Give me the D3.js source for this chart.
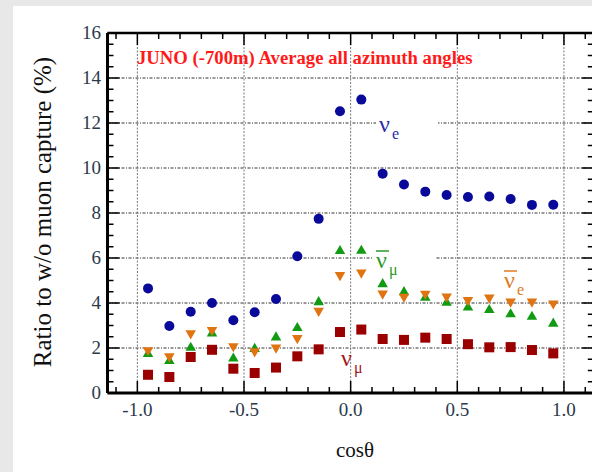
<!DOCTYPE html>
<html>
<head>
<meta charset="utf-8">
<script src="https://cdn.jsdelivr.net/npm/d3@7"></script>
<style>
  body { margin: 0; background: #e8e8e8; }
  svg { display: block; }
  text { font-family: "Liberation Serif", "DejaVu Serif", serif; }
</style>
</head>
<body>
<script>
// cos(theta) bin centres
var cosTheta = [-0.95, -0.85, -0.75, -0.65, -0.55, -0.45, -0.35, -0.25, -0.15, -0.05,
                 0.05, 0.15, 0.25, 0.35, 0.45, 0.55, 0.65, 0.75, 0.85, 0.95];

// ratio to w/o muon capture (%)
var nuE     = [4.65, 2.98, 3.61, 4.00, 3.23, 3.59, 4.18, 6.08, 7.74, 12.52,
               13.04, 9.75, 9.27, 8.95, 8.80, 8.71, 8.73, 8.62, 8.36, 8.37];
var nuMuBar = [1.73, 1.42, 2.01, 2.65, 1.53, 1.96, 2.47, 2.89, 4.04, 6.31,
               6.32, 4.84, 4.48, 4.24, 4.01, 3.80, 3.69, 3.50, 3.39, 3.08];
var nuEBar  = [1.90, 1.63, 2.65, 2.80, 2.08, 1.85, 2.02, 2.44, 3.65, 5.24,
               5.35, 4.42, 4.28, 4.41, 4.29, 4.13, 4.24, 4.06, 4.06, 3.98];
var nuMu    = [0.81, 0.71, 1.60, 1.92, 1.08, 0.89, 1.13, 1.63, 1.94, 2.71,
               2.82, 2.40, 2.36, 2.46, 2.40, 2.17, 2.03, 2.04, 1.91, 1.76];

var xTicks = [-1.0, -0.5, 0.0, 0.5, 1.0];
var xTickLabels = ["-1.0", "-0.5", "0.0", "0.5", "1.0"];
var yTicks = [0, 2, 4, 6, 8, 10, 12, 14, 16];

var w = 592, h = 472;

var svg = d3.select("body").append("svg")
  .attr("width", w)
  .attr("height", h);

// grey surround + white panel
svg.append("rect").attr("width", w).attr("height", h).attr("fill", "#e8e8e8");
svg.append("rect").attr("x", 13).attr("y", 6).attr("width", w - 13).attr("height", h - 6).attr("fill", "#fff");

var x = d3.scaleLinear().domain([-1.14, 1.14]).range([107.5, 593.8]);
var y = d3.scaleLinear().domain([0, 16]).range([393, 33]);

var x0 = x.range()[0], x1 = x.range()[1];
var y0 = y.range()[0], y1 = y.range()[1];

// grid
svg.selectAll(".hgrid")
  .data(yTicks.filter(function(d) { return d > 0 && d < 16; }))
  .enter().append("line")
  .attr("x1", x0).attr("x2", x1)
  .attr("y1", function(d) { return y(d); })
  .attr("y2", function(d) { return y(d); })
  .attr("stroke", "#333")
  .attr("stroke-width", 1)
  .attr("stroke-dasharray", "3,1.5,1,1.5");

svg.selectAll(".vgrid")
  .data(xTicks)
  .enter().append("line")
  .attr("x1", function(d) { return x(d); })
  .attr("x2", function(d) { return x(d); })
  .attr("y1", y1).attr("y2", y0)
  .attr("stroke", "#777")
  .attr("stroke-width", 1)
  .attr("stroke-dasharray", "2,1.5");

// white boxes behind labels (they cut the grid lines)
var boxes = [[376, 112, 62, 32], [372, 245, 64, 34]];
boxes.forEach(function(b) {
  svg.append("rect").attr("x", b[0]).attr("y", b[1]).attr("width", b[2]).attr("height", b[3]).attr("fill", "#fff");
});

// ticks
var minorX = d3.range(-11, 12).map(function(i) { return i / 10; });
var minorY = d3.range(0, 33).map(function(i) { return i / 2; });

function isMajorX(v) { return Math.abs(v * 2 - Math.round(v * 2)) < 1e-6; }
function isMajorY(v) { return Math.abs(v / 2 - Math.round(v / 2)) < 1e-6; }

var ticks = svg.append("g").attr("stroke", "#000").attr("stroke-width", 1.5);
minorX.forEach(function(v) {
  var len = isMajorX(v) ? 12 : 6;
  ticks.append("line").attr("x1", x(v)).attr("x2", x(v)).attr("y1", y0).attr("y2", y0 - len);
  ticks.append("line").attr("x1", x(v)).attr("x2", x(v)).attr("y1", y1).attr("y2", y1 + len);
});
minorY.forEach(function(v) {
  var len = isMajorY(v) ? 12 : 6;
  ticks.append("line").attr("x1", x0).attr("x2", x0 + len).attr("y1", y(v)).attr("y2", y(v));
  ticks.append("line").attr("x1", x1).attr("x2", x1 - len).attr("y1", y(v)).attr("y2", y(v));
});

// frame
svg.append("line").attr("x1", x0).attr("x2", x1).attr("y1", y1).attr("y2", y1).attr("stroke", "#000").attr("stroke-width", 2.5);
svg.append("line").attr("x1", x0).attr("x2", x1).attr("y1", y0).attr("y2", y0).attr("stroke", "#000").attr("stroke-width", 3);
svg.append("line").attr("x1", x0).attr("x2", x0).attr("y1", y1).attr("y2", y0).attr("stroke", "#000").attr("stroke-width", 3);
svg.append("line").attr("x1", x1).attr("x2", x1).attr("y1", y1).attr("y2", y0).attr("stroke", "#000").attr("stroke-width", 3);

// tick labels
svg.selectAll(".xlab")
  .data(xTicks)
  .enter().append("text")
  .attr("x", function(d) { return x(d); })
  .attr("y", 416)
  .attr("text-anchor", "middle")
  .attr("font-size", 19)
  .attr("fill", "#2b3a4a")
  .text(function(d, i) { return xTickLabels[i]; });

svg.selectAll(".ylab")
  .data(yTicks)
  .enter().append("text")
  .attr("x", 101)
  .attr("y", function(d) { return y(d) + 6; })
  .attr("text-anchor", "end")
  .attr("font-size", 19)
  .attr("fill", "#2b3a4a")
  .text(function(d) { return d; });

// axis titles
svg.append("text")
  .attr("transform", "translate(51," + 212 + ") rotate(-90)")
  .attr("text-anchor", "middle")
  .attr("font-size", 25)
  .attr("fill", "#111")
  .text("Ratio to w/o muon capture (%)");

svg.append("text")
  .attr("x", 355).attr("y", 457)
  .attr("text-anchor", "middle")
  .attr("font-size", 21)
  .attr("fill", "#111")
  .text("cosθ");

// title
svg.append("text")
  .attr("x", 137).attr("y", 64)
  .attr("font-size", 18.7)
  .attr("font-weight", "bold")
  .attr("fill", "#ff1a1a")
  .text("JUNO (-700m) Average all azimuth angles");

// markers
function rows(vals) {
  return cosTheta.map(function(c, i) { return { c: c, v: vals[i] }; });
}

svg.selectAll(".nuE")
  .data(rows(nuE))
  .enter().append("circle")
  .attr("cx", function(d) { return x(d.c); })
  .attr("cy", function(d) { return y(d.v); })
  .attr("r", 5)
  .attr("fill", "#0a0a9a");

svg.selectAll(".nuMu")
  .data(rows(nuMu))
  .enter().append("rect")
  .attr("x", function(d) { return x(d.c) - 5; })
  .attr("y", function(d) { return y(d.v) - 5; })
  .attr("width", 10).attr("height", 10)
  .attr("fill", "#9a0000");

var tri = d3.symbol().type(d3.symbolTriangle).size(48);

svg.selectAll(".nuMuBar")
  .data(rows(nuMuBar))
  .enter().append("path")
  .attr("d", tri)
  .attr("transform", function(d) { return "translate(" + x(d.c) + "," + y(d.v) + ")"; })
  .attr("fill", "#139a13");

svg.selectAll(".nuEBar")
  .data(rows(nuEBar))
  .enter().append("path")
  .attr("d", tri)
  .attr("transform", function(d) { return "translate(" + x(d.c) + "," + y(d.v) + ") rotate(180)"; })
  .attr("fill", "#e07410");

// series labels
function nuLabel(px, py, sub, color, bar) {
  var g = svg.append("g").attr("fill", color);
  g.append("text").attr("x", px).attr("y", py).attr("font-size", 24).text("ν");
  g.append("text").attr("x", px + 13).attr("y", py + 7).attr("font-size", 16).text(sub);
  if (bar) {
    g.append("line").attr("x1", px).attr("x2", px + 13)
      .attr("y1", py - 17).attr("y2", py - 17)
      .attr("stroke", color).attr("stroke-width", 1.5);
  }
}
nuLabel(379, 132, "e", "#2a2aa8", false);
nuLabel(376, 268, "μ", "#2a9a2a", true);
nuLabel(504, 288, "e", "#e07a20", true);
nuLabel(341, 366, "μ", "#a01818", false);
</script>
</body>
</html>
